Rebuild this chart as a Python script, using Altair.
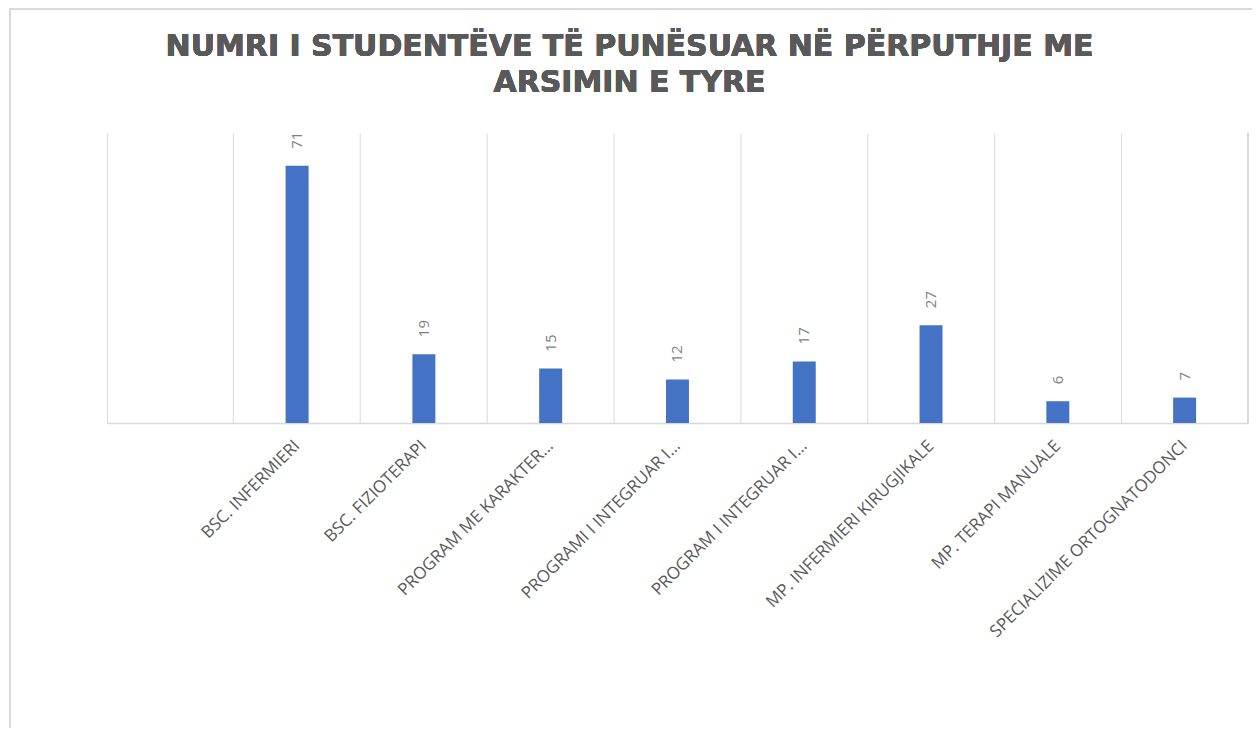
import altair as alt
import pandas as pd

title_lines = ["NUMRI I STUDENTËVE TË PUNËSUAR NË PËRPUTHJE ME", "ARSIMIN E TYRE"]
categories = [" ", "BSC. INFERMIERI", "BSC. FIZIOTERAPI", "PROGRAM ME KARAKTER…",
              "PROGRAMI I INTEGRUAR I…", "PROGRAM I INTEGRUAR I…",
              "MP. INFERMIERI KIRUGJIKALE", "MP. TERAPI MANUALE",
              "SPECIALIZIME ORTOGNATODONCI"]
values = [None, 71, 19, 15, 12, 17, 27, 6, 7]

rows = [{"cat": c, "val": v} for c, v in zip(categories, values) if v is not None]
df = pd.DataFrame(rows)

W, H = 1142, 290
GRID = "#d9d9d9"
TXT = "#595959"

xenc = alt.X("cat:N", sort=categories,
             scale=alt.Scale(domain=categories, paddingInner=0, paddingOuter=0),
             axis=alt.Axis(title=None, labelAngle=-45, labelAlign="right",
                           labelBaseline="middle", labelPadding=20,
                           labelFont="Open Sans", labelFontSize=17,
                           labelColor=TXT, labelLimit=400,
                           ticks=False, grid=True, bandPosition=0,
                           gridColor=GRID, gridWidth=1,
                           domainColor=GRID, domainWidth=1.5))
yenc = alt.Y("val:Q", scale=alt.Scale(domain=[0, 80], nice=False), axis=None)

base = alt.Chart(df)

bars = base.mark_bar(size=23, color="#4472C4").encode(x=xenc, y=yenc)
labels = base.mark_text(angle=270, align="left", baseline="middle", dx=17,
                        fontSize=15, font="Open Sans", color="#7f7f7f").encode(
    x=xenc, y=yenc, text="val:Q")

right_grid = alt.Chart(df).mark_rule(color=GRID, strokeWidth=1).encode(
    x=alt.value(W), y=alt.value(0), y2=alt.value(H))

border = alt.Chart(df).mark_rect(fill=None, stroke=GRID, strokeWidth=1.5).encode(
    x=alt.value(-97), x2=alt.value(W + 60), y=alt.value(-124), y2=alt.value(H + 400))

title = alt.Chart(df).mark_text(
    font="DejaVu Sans", fontSize=30, fontWeight="bold", color=TXT,
    align="center", baseline="alphabetic", lineHeight=36).encode(
    x=alt.value(W / 2 - 48), y=alt.value(-77), text=alt.value(title_lines))

chart = alt.layer(border, right_grid, bars, labels, title).properties(
    width=W, height=H,
    autosize=alt.AutoSizeParams(type="none"),
    padding={"left": 99, "top": 125, "right": 4, "bottom": 305},
).configure_view(stroke=None)

chart.save("out.html", embed_options={"renderer": "svg", "actions": False})
